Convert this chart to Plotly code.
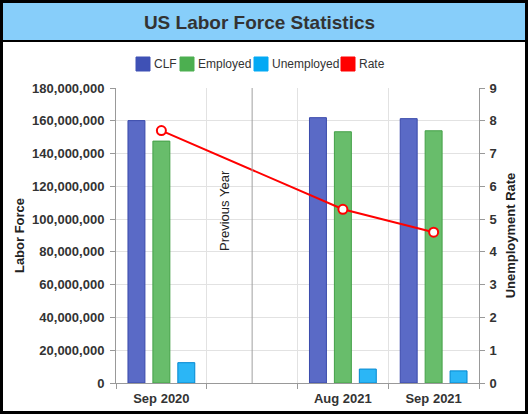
import plotly.graph_objects as go

# ---- data ----
categories = ["Sep 2020", " ", "Aug 2021", "Sep 2021"]
clf = [160.1e6, None, 161.9e6, 161.3e6]
employed = [147.6e6, None, 153.3e6, 153.9e6]
unemployed = [12.4e6, None, 8.5e6, 7.4e6]
rate = [7.7, None, 5.3, 4.6]
series_names = ["CLF", "Employed", "Unemployed", "Rate"]
y_ticks = [0, 20e6, 40e6, 60e6, 80e6, 100e6, 120e6, 140e6, 160e6, 180e6]
y2_ticks = [0, 1, 2, 3, 4, 5, 6, 7, 8, 9]

W, H = 531, 414
ML, MR, MT, MB = 116, 52, 88, 31
PW, PH = W - ML - MR, H - MT - MB

def px(x):
    return (x - ML) / PW

def py(y):
    return (H - MB - y) / PH

FONT = "Liberation Sans, Arial, sans-serif"
legend_colors = ["#3F51B5", "#4CAF50", "#03A9F4", "#FF0000"]

fig = go.Figure()
fig.add_trace(go.Bar(x=categories, y=clf, name=series_names[0],
                     marker=dict(color="#5a6ac6", line=dict(color="#3949ab", width=1)),
                     showlegend=False))
fig.add_trace(go.Bar(x=categories, y=employed, name=series_names[1],
                     marker=dict(color="#68bd6b", line=dict(color="#43a047", width=1)),
                     showlegend=False))
fig.add_trace(go.Bar(x=categories, y=unemployed, name=series_names[2],
                     marker=dict(color="#2bb6f6", line=dict(color="#0288d1", width=1)),
                     showlegend=False))
fig.add_trace(go.Scatter(x=categories, y=rate, name=series_names[3], yaxis="y2",
                         mode="lines+markers", connectgaps=True,
                         line=dict(color="#FF0000", width=2),
                         marker=dict(symbol="circle", size=9, color="white",
                                     line=dict(color="#FF0000", width=2)),
                         showlegend=False))

shapes = [
    # title bar
    dict(type="rect", xref="paper", yref="paper", x0=px(3), x1=px(525), y0=py(40), y1=py(3),
         fillcolor="#87CEFA", line=dict(width=0), layer="below"),
    dict(type="line", xref="paper", yref="paper", x0=px(3), x1=px(525), y0=py(41), y1=py(41),
         line=dict(color="black", width=2)),
    # outer border
    dict(type="rect", xref="paper", yref="paper", x0=px(1.5), x1=px(526.5), y0=py(412.5), y1=py(1.5),
         line=dict(color="black", width=3)),
    # previous-year separator
    dict(type="line", xref="x", yref="paper", x0=" ", x1=" ", y0=0, y1=1,
         line=dict(color="#a0a0a0", width=1)),
]

annotations = [
    dict(text="Previous Year", xref="paper", yref="paper", x=px(224), y=py(211),
         showarrow=False, textangle=-90, font=dict(family=FONT, size=13, color="#222"),
         xanchor="center", yanchor="middle"),
]

# manual legend
sw_x = [136, 180, 254, 341]
for name, col, x0 in zip(series_names, legend_colors, sw_x):
    shapes.append(dict(type="rect", xref="paper", yref="paper", x0=px(x0), x1=px(x0 + 14),
                       y0=py(71), y1=py(57), fillcolor=col, line=dict(color=col, width=1)))
    annotations.append(dict(text=name, xref="paper", yref="paper", x=px(x0 + 16), y=py(64),
                            showarrow=False, xanchor="left", yanchor="middle",
                            font=dict(family=FONT, size=12, color="#333")))

tickfont = dict(family=FONT, size=13, color="#333", weight="bold")

fig.update_layout(
    width=W, height=H,
    margin=dict(l=ML, r=MR, t=MT, b=MB, autoexpand=False),
    paper_bgcolor="white", plot_bgcolor="white",
    font=dict(family=FONT),
    title=dict(text="US Labor Force Statistics", xref="container", yref="container",
               x=259.5 / W, y=1 - 22 / H, xanchor="center", yanchor="middle",
               font=dict(family=FONT, size=19, color="#333", weight="bold")),
    barmode="group", bargap=0.176, bargroupgap=0.32,
    showlegend=False,
    xaxis=dict(type="category", categoryorder="array", categoryarray=categories,
               tickson="boundaries", showgrid=True, gridcolor="#e2e2e2",
               ticks="outside", ticklen=5, tickcolor="#999", showline=True, linecolor="#999",
               tickfont=tickfont, ticklabelstandoff=3, fixedrange=True),
    yaxis=dict(range=[0, 180e6], tickvals=y_ticks, tickformat=",d",
               showgrid=True, gridcolor="#e2e2e2", zeroline=False,
               ticks="outside", ticklen=5, tickcolor="#999", showline=True, linecolor="#999",
               tickfont=tickfont, ticklabelstandoff=3, automargin=False, fixedrange=True,
               title=dict(text="Labor Force", standoff=4,
                          font=dict(family=FONT, size=13, color="#222", weight="bold"))),
    yaxis2=dict(range=[0, 9], tickvals=y2_ticks, overlaying="y", side="right",
                showgrid=False, zeroline=False,
                ticks="outside", ticklen=5, tickcolor="#999", showline=True, linecolor="#999",
                tickfont=tickfont, ticklabelstandoff=2, automargin=False, fixedrange=True,
                title=dict(text="Unemployment Rate", standoff=9,
                           font=dict(family=FONT, size=13, color="#222", weight="bold"))),
    shapes=shapes, annotations=annotations,
)

fig.write_html("out.html", config={"displayModeBar": False, "staticPlot": True},
               post_script="document.body.style.margin='0';document.body.style.overflow='hidden';")
